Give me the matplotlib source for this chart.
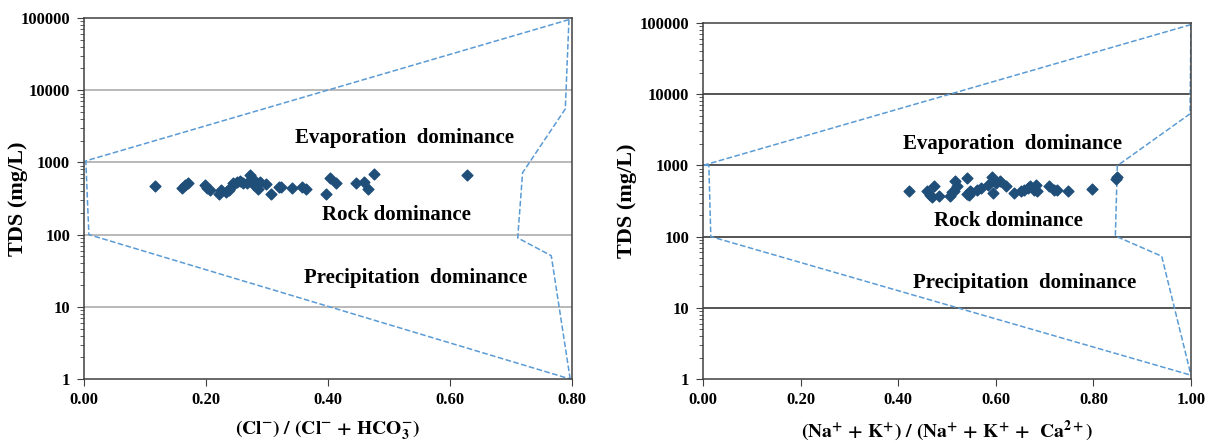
import numpy as np
import matplotlib
matplotlib.use('Agg')
import matplotlib.pyplot as plt
from matplotlib.ticker import LogLocator, FuncFormatter, NullFormatter

# Datos (Gibbs)
cl_ratio = [0.117, 0.161, 0.166, 0.170, 0.199, 0.202, 0.206, 0.222, 0.225, 0.233,
            0.237, 0.241, 0.245, 0.250, 0.255, 0.260, 0.268, 0.272, 0.277, 0.279,
            0.285, 0.288, 0.299, 0.307, 0.319, 0.323, 0.341, 0.357, 0.364, 0.397,
            0.403, 0.413, 0.446, 0.459, 0.466, 0.476, 0.628]
tds_left = [474, 445, 484, 511, 484, 445, 412, 370, 421, 391,
            421, 459, 511, 540, 557, 522, 522, 670, 582, 484,
            435, 540, 501, 370, 459, 459, 445, 459, 435, 370,
            600, 511, 511, 540, 435, 692, 670]

na_ratio = [0.422, 0.459, 0.465, 0.470, 0.473, 0.483, 0.507, 0.510, 0.514, 0.517,
            0.521, 0.540, 0.541, 0.545, 0.548, 0.550, 0.562, 0.569, 0.583, 0.593,
            0.595, 0.600, 0.608, 0.620, 0.637, 0.651, 0.658, 0.665, 0.671, 0.678,
            0.682, 0.685, 0.709, 0.719, 0.726, 0.747, 0.798, 0.846, 0.848]
tds_right = [433, 433, 389, 358, 508, 368, 368, 420, 433, 597,
             508, 398, 665, 389, 433, 420, 457, 482, 537, 680,
             410, 566, 597, 508, 410, 433, 457, 482, 508, 457,
             530, 433, 508, 457, 457, 443, 472, 652, 680]

# Límites de los dominios (líneas discontinuas)
left_top_x = [0.795, 0.003, 0.008, 0.797]
left_top_y = [95000, 1050, 100, 1.0]
left_side_x = [0.795, 0.789, 0.719, 0.711, 0.766, 0.797]
left_side_y = [95000, 5500, 720, 90, 51, 1.0]

right_top_x = [1.0, 0.0, 0.012, 0.016, 1.0]
right_top_y = [95000, 1000, 1000, 100, 1.13]
right_side_x = [1.0, 0.998, 0.849, 0.845, 0.940, 1.0]
right_side_y = [95000, 5300, 990, 102, 53, 1.13]

yticks = [1, 10, 100, 1000, 10000, 100000]

plt.rcParams['font.family'] = 'Liberation Serif'
plt.rcParams['font.weight'] = 'bold'
plt.rcParams['mathtext.fontset'] = 'stix'

fig = plt.figure(figsize=(12.19, 4.44), dpi=100)
ax1 = fig.add_axes([84 / 1219, 1 - 379 / 444, 488 / 1219, 361 / 444])
ax2 = fig.add_axes([703 / 1219, 1 - 379 / 444, 488 / 1219, 356 / 444])

marker_color = '#1F4E79'
line_color = '#5B9BD5'


def style_axes(ax, xmax, grid_color, label_x):
    ax.set_yscale('log')
    ax.set_ylim(1, 100000)
    ax.set_xlim(0, xmax)
    ax.set_yticks(yticks)
    ax.yaxis.set_major_formatter(FuncFormatter(lambda v, p: '%d' % v))
    ax.yaxis.set_minor_locator(LogLocator(base=10, subs=np.arange(2, 10)))
    ax.yaxis.set_minor_formatter(NullFormatter())
    ax.set_xticks(np.arange(0, xmax + 0.001, 0.2))
    ax.xaxis.set_major_formatter(FuncFormatter(lambda v, p: '%.2f' % v))
    for y in yticks[1:-1]:
        ax.axhline(y, color=grid_color, lw=1.1, zorder=1)
    for s in ax.spines.values():
        s.set_color('#404040')
        s.set_linewidth(1.1)
    ax.tick_params(axis='both', which='major', direction='out', length=5,
                   color='#404040', labelsize=12, pad=5)
    ax.tick_params(axis='x', which='major', pad=4)
    ax.tick_params(axis='y', which='minor', direction='out', length=3, color='#404040')
    ax.set_ylabel('TDS (mg/L)', fontsize=16, fontweight='bold')
    ax.yaxis.set_label_coords(label_x, 0.5)


# Gráfica izquierda
style_axes(ax1, 0.8, '#A6A6A6', -0.115)
ax1.plot(left_top_x, left_top_y, '--', color=line_color, lw=1.1, zorder=2)
ax1.plot(left_side_x, left_side_y, '--', color=line_color, lw=1.1, zorder=2)
ax1.scatter(cl_ratio, tds_left, marker='D', s=30, color=marker_color, zorder=3)
ax1.text(0.526, 2200, 'Evaporation  dominance', fontsize=15, ha='center', va='center')
ax1.text(0.513, 186, 'Rock dominance', fontsize=15, ha='center', va='center')
ax1.text(0.543, 25, 'Precipitation  dominance', fontsize=15, ha='center', va='center')
ax1.set_xlabel(r'$\mathbf{(Cl^{-})\ /\ (Cl^{-}\ {+}\ HCO_{3}^{-})}$', fontsize=14, labelpad=8)

# Gráfica derecha
style_axes(ax2, 1.0, '#262626', -0.135)
ax2.plot(right_top_x, right_top_y, '--', color=line_color, lw=1.1, zorder=2)
ax2.plot(right_side_x, right_side_y, '--', color=line_color, lw=1.1, zorder=2)
ax2.scatter(na_ratio, tds_right, marker='D', s=30, color=marker_color, zorder=3)
ax2.text(0.635, 2000, 'Evaporation  dominance', fontsize=15, ha='center', va='center')
ax2.text(0.625, 166, 'Rock dominance', fontsize=15, ha='center', va='center')
ax2.text(0.66, 22.5, 'Precipitation  dominance', fontsize=15, ha='center', va='center')
ax2.set_xlabel(r'$\mathbf{(Na^{+}\ {+}\ K^{+})\ /\ (Na^{+}\ {+}\ K^{+}\ {+}\ \ Ca^{2+})}$',
               fontsize=14, labelpad=8)

fig.savefig('out.png', dpi=100)
